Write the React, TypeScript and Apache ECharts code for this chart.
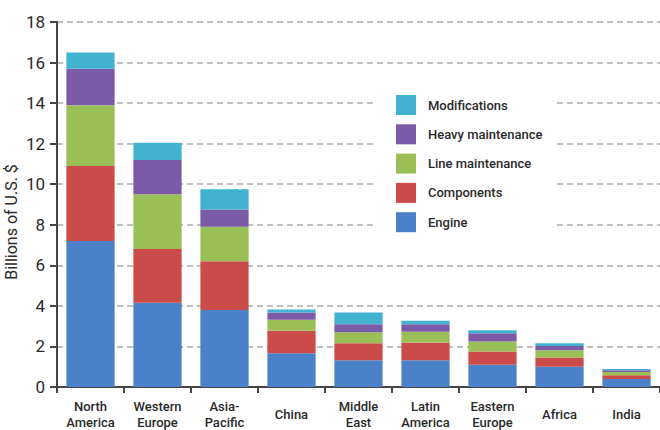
import React, { useEffect, useRef } from "react";
import * as echarts from "echarts";

const categories = [
  "North\nAmerica",
  "Western\nEurope",
  "Asia-\nPacific",
  "China",
  "Middle\nEast",
  "Latin\nAmerica",
  "Eastern\nEurope",
  "Africa",
  "India",
];

const engine = [7.2, 4.15, 3.8, 1.67, 1.32, 1.32, 1.1, 1.0, 0.4];
const components = [3.7, 2.65, 2.4, 1.1, 0.84, 0.88, 0.65, 0.45, 0.18];
const lineMaintenance = [3.0, 2.7, 1.7, 0.55, 0.54, 0.53, 0.5, 0.36, 0.16];
const heavyMaintenance = [1.8, 1.7, 0.85, 0.35, 0.4, 0.36, 0.4, 0.21, 0.08];
const modifications = [0.8, 0.85, 1.0, 0.15, 0.58, 0.18, 0.15, 0.14, 0.07];

const legendOrder = [
  "Modifications",
  "Heavy maintenance",
  "Line maintenance",
  "Components",
  "Engine",
];

const COND = "'Roboto', 'DejaVu Sans Condensed', sans-serif";
const SANS = "'Roboto', 'Liberation Sans', sans-serif";

export default function App() {
  const ref = useRef<HTMLDivElement>(null);

  useEffect(() => {
    if (!ref.current) return;
    const chart = echarts.init(ref.current, undefined, { renderer: "svg" });
    const mk = (name: string, data: number[], color: string) => ({
      name,
      type: "bar",
      stack: "total",
      data,
      barCategoryGap: "28%",
      itemStyle: { color },
    });
    chart.setOption({
      animation: false,
      backgroundColor: "#fff",
      grid: { left: 57, right: -2, top: 22, bottom: 41 },
      legend: {
        data: legendOrder,
        orient: "vertical",
        left: 377,
        top: 87,
        padding: [8, 14, 8, 19],
        backgroundColor: "#fff",
        itemWidth: 20,
        itemHeight: 20,
        itemGap: 9.3,
        icon: "rect",
        textStyle: {
          fontFamily: COND,
          fontSize: 13,
          fontWeight: 500,
          color: "#2a2a2a",
          padding: [0, 0, 0, 7],
        },
        z: 10,
      },
      xAxis: {
        type: "category",
        data: categories,
        axisLine: { show: true, lineStyle: { color: "#444", width: 2 } },
        axisTick: { show: true, length: 6, alignWithLabel: false, lineStyle: { color: "#444", width: 2 } },
        axisLabel: {
          interval: 0,
          margin: 27,
          verticalAlign: "middle",
          lineHeight: 16,
          fontFamily: COND,
          fontSize: 13,
          fontWeight: 500,
          color: "#2a2a2a",
        },
        splitLine: { show: false },
      },
      yAxis: {
        type: "value",
        min: 0,
        max: 18,
        interval: 2,
        axisLine: { show: true, lineStyle: { color: "#444", width: 2 } },
        axisTick: { show: true, length: 7, lineStyle: { color: "#444", width: 2 } },
        axisLabel: {
          margin: 12,
          fontFamily: SANS,
          fontSize: 17,
          color: "#2a2a2a",
        },
        splitLine: {
          show: true,
          lineStyle: { color: "#aaa", type: [6, 4], width: 1.5 },
        },
      },
      graphic: [
        {
          type: "text",
          x: 11,
          y: 222,
          rotation: Math.PI / 2,
          style: {
            text: "Billions of U.S. $",
            fontFamily: SANS,
            fontSize: 16,
            fill: "#2a2a2a",
            align: "center",
            verticalAlign: "middle",
          },
        },
      ],
      series: [
        mk("Engine", engine, "#4A81C9"),
        mk("Components", components, "#CB4B48"),
        mk("Line maintenance", lineMaintenance, "#9BBF57"),
        mk("Heavy maintenance", heavyMaintenance, "#7B5BA8"),
        mk("Modifications", modifications, "#41B2CF"),
      ],
    });
    return () => chart.dispose();
  }, []);

  return (
    <div
      ref={ref}
      style={{ position: "absolute", left: 0, top: 0, width: 660, height: 430 }}
    />
  );
}
